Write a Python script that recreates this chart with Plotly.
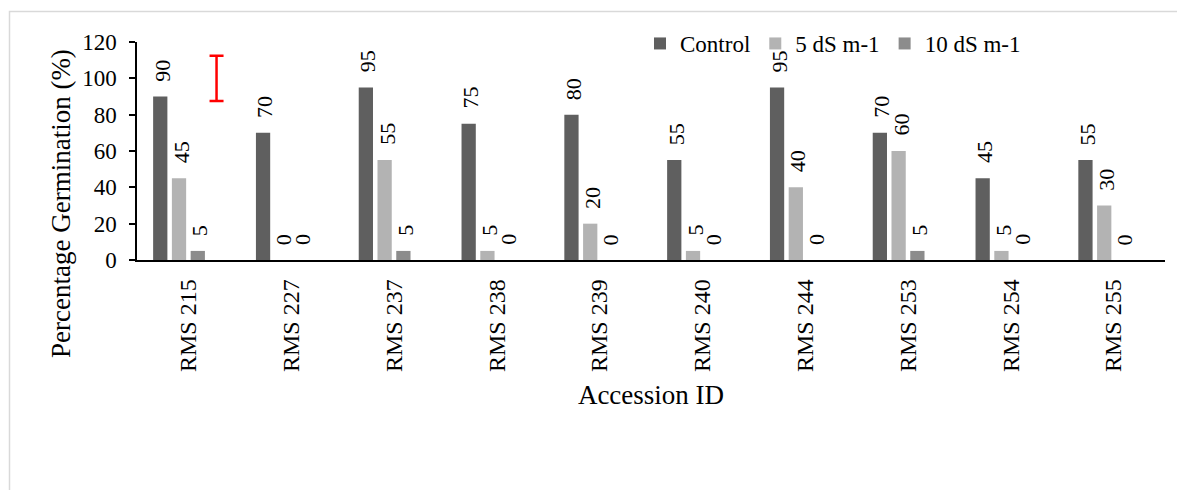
import plotly.graph_objects as go

categories = ["RMS 215", "RMS 227", "RMS 237", "RMS 238", "RMS 239",
              "RMS 240", "RMS 244", "RMS 253", "RMS 254", "RMS 255"]
control = [90, 70, 95, 75, 80, 55, 95, 70, 45, 55]
ds5 = [45, 0, 55, 5, 20, 5, 40, 60, 5, 30]
ds10 = [5, 0, 5, 0, 0, 0, 0, 5, 0, 0]
series_names = ["Control", "5 dS m-1", "10 dS m-1"]
# scale/error marker shown in 4th (hidden) series slot of first group
err_center = [100]
err_half = [12.5]

colors = ["#5f5f5f", "#b3b3b3", "#8c8c8c"]
FONT = "Liberation Serif"

OFF = 8  # page body margin
W, H = 1185 - OFF, 490 - OFF
# target pixel positions in the window
AX_L, AX_R, AX_T, AX_B = 137, 1165, 42, 260
ML, MR, MT, MB = AX_L - OFF, 1185 - AX_R, AX_T - OFF, 490 - AX_B
plot_w = AX_R - AX_L
plot_h = AX_B - AX_T
bargap = 0.27
bargroupgap = 0.24
n_slots = 4
slot_px = plot_w / len(categories) * (1 - bargap) / n_slots


def px_x(x):
    return (x - AX_L) / plot_w


def px_y(y):
    return (AX_B - y) / plot_h


fig = go.Figure()
for name, vals, col in zip(series_names, [control, ds5, ds10], colors):
    fig.add_trace(go.Bar(x=categories, y=vals, name=name, marker_color=col,
                         marker_line_width=0))

fig.add_trace(go.Bar(x=categories[:1], y=err_center, name="scale",
                     marker_color="rgba(0,0,0,0)", marker_line_width=0,
                     showlegend=False, hoverinfo="skip",
                     error_y=dict(type="data", array=err_half, color="#ff0000",
                                  thickness=2.5, width=7)))

annotations = []
for si, vals in enumerate([control, ds5, ds10]):
    off = (si - (n_slots - 1) / 2) * slot_px
    for cat, v in zip(categories, vals):
        annotations.append(dict(x=cat, y=v, xref="x", yref="y", text=str(v),
                                textangle=-90, showarrow=False,
                                xanchor="center", yanchor="bottom",
                                xshift=off + 2, yshift=13,
                                font=dict(family=FONT, size=22, color="#000")))

annotations.append(dict(x=px_x(61), y=px_y(204),
                        xref="paper", yref="paper", text="Percentage Germination (%)",
                        textangle=-90, showarrow=False, xanchor="center",
                        yanchor="middle", font=dict(family=FONT, size=27, color="#000")))

fig.update_layout(
    width=W, height=H,
    margin=dict(l=ML, r=MR, t=MT, b=MB, autoexpand=False),
    paper_bgcolor="white", plot_bgcolor="white",
    barmode="group", bargap=bargap, bargroupgap=bargroupgap,
    font=dict(family=FONT, color="#000"),
    annotations=annotations,
    legend=dict(orientation="h", x=px_x(640), xanchor="left",
                y=px_y(22), yanchor="top",
                font=dict(family=FONT, size=23, color="#000"),
                bgcolor="rgba(0,0,0,0)", traceorder="normal"),
    shapes=[dict(type="rect", xref="paper", yref="paper",
                 x0=px_x(9.5), x1=1.2,
                 y0=-1.3, y1=px_y(11.5),
                 line=dict(color="#d9d9d9", width=1.5), fillcolor="rgba(0,0,0,0)",
                 layer="below")],
)
fig.update_xaxes(showline=True, linecolor="#000", linewidth=1.5, ticks="",
                 tickangle=-90, ticklabelstandoff=8,
                 tickfont=dict(family=FONT, size=24, color="#000"),
                 title=dict(text="Accession ID", standoff=14,
                            font=dict(family=FONT, size=27, color="#000")),
                 showgrid=False)
fig.update_yaxes(range=[0, 120], dtick=20, showline=True, linecolor="#000",
                 linewidth=1.5, ticks="outside", ticklen=6, tickcolor="#000",
                 tickwidth=1.5, ticklabelstandoff=8, showgrid=False, zeroline=False,
                 tickfont=dict(family=FONT, size=23, color="#000"))

fig.write_html("out.html")
